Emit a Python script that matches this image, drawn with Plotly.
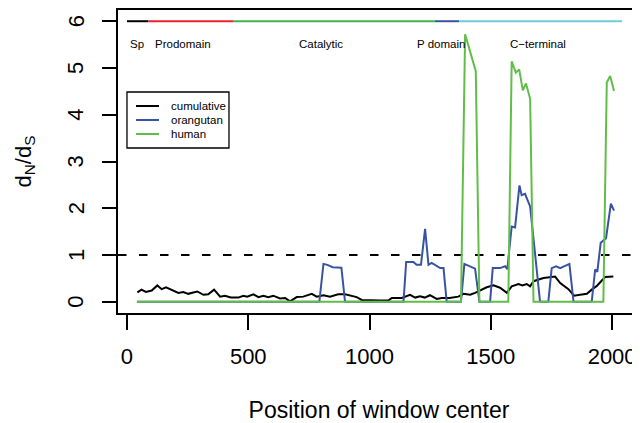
import plotly.graph_objects as go

# ---------------- data ----------------
# cumulative dN/dS (black)
cum_x = [43, 60, 78, 102, 125, 143, 161, 184, 212, 232, 253, 273, 290, 315, 335, 359, 384, 404,
         428, 459, 480, 496, 521, 542, 562, 583, 603, 631, 652, 672, 700, 727, 762, 782, 810, 837,
         871, 899, 927, 947, 968, 1002, 1040, 1078, 1092, 1133, 1167, 1188, 1208, 1228, 1249, 1277,
         1298, 1330, 1366, 1387, 1415, 1435, 1463, 1483, 1511, 1538, 1566, 1586, 1614, 1630, 1648,
         1662, 1676, 1717, 1765, 1786, 1820, 1843, 1868, 1896, 1916, 1937, 1971, 2005]
cum_y = [0.20, 0.26, 0.21, 0.24, 0.35, 0.27, 0.31, 0.26, 0.19, 0.21, 0.17, 0.20, 0.22, 0.15, 0.16,
         0.26, 0.11, 0.13, 0.09, 0.09, 0.13, 0.11, 0.16, 0.10, 0.13, 0.10, 0.13, 0.07, 0.08, 0.01,
         0.10, 0.11, 0.17, 0.11, 0.14, 0.11, 0.16, 0.16, 0.13, 0.10, 0.04, 0.03, 0.03, 0.03, 0.08,
         0.08, 0.15, 0.09, 0.12, 0.09, 0.14, 0.06, 0.08, 0.08, 0.11, 0.17, 0.15, 0.19, 0.26, 0.31,
         0.35, 0.30, 0.19, 0.33, 0.38, 0.35, 0.38, 0.33, 0.44, 0.51, 0.54, 0.40, 0.27, 0.13, 0.15,
         0.17, 0.26, 0.34, 0.53, 0.54]

# orangutan dN/dS (blue)
ora_x = [41, 793, 810, 826, 848, 884, 899, 1140, 1151, 1181, 1194, 1212, 1229, 1243, 1256, 1291,
         1305, 1318, 1377, 1391, 1435, 1453, 1497, 1508, 1538, 1559, 1568, 1586, 1600, 1618, 1627,
         1641, 1662, 1682, 1703, 1737, 1751, 1769, 1786, 1824, 1841, 1916, 1930, 1939, 1953, 1975,
         1995, 2008]
ora_y = [0, 0, 0.81, 0.79, 0.74, 0.73, 0, 0, 0.85, 0.85, 0.79, 0.79, 1.56, 0.79, 0.83, 0.72,
         0.72, 0, 0, 0.81, 0.71, 0, 0, 0.72, 0.72, 0.76, 0.70, 1.61, 1.59, 2.49, 2.28,
         2.31, 2.04, 1.05, 0, 0, 0.72, 0.76, 0.72, 0.81, 0, 0, 0.69, 0.64, 1.26, 1.36,
         2.10, 1.95]

# human dN/dS (green)
hum_x = [41, 1377, 1394, 1438, 1453, 1572, 1586, 1603, 1617, 1632, 1645, 1662, 1676, 1964, 1978,
         1992, 2008]
hum_y = [0, 0, 5.72, 4.93, 0, 0, 5.14, 4.90, 4.97, 4.52, 4.67, 4.34, 0, 0, 4.69, 4.83, 4.51]

# protein domains drawn at the top
dom_names = ["Sp", "Prodomain", "Catalytic", "P domain", "C\u2212terminal"]
dom_start = [0, 87, 437, 1270, 1369]
dom_end = [87, 437, 1270, 1369, 2041]
dom_label_x = [43, 229, 798, 1296, 1696]
dom_colors = ["#000000", "#E8262A", "#3DB54A", "#3953A4", "#6DCBDD"]
dom_y = 6
dom_label_y = 5.52

threshold = 1

series_names = ["cumulative", "orangutan", "human"]
series_colors = ["#000000", "#3953A4", "#62BD48"]

xticks = [0, 500, 1000, 1500, 2000]
yticks = [0, 1, 2, 3, 4, 5, 6]
ytick_labels = ["0", "1", "2", "3", "4", "5", "6"]

FONT = "Liberation Sans, Arial, Helvetica, sans-serif"

fig = go.Figure()

# domain bar
for s, e, c in zip(dom_start, dom_end, dom_colors):
    fig.add_trace(go.Scatter(x=[s, e], y=[dom_y, dom_y], mode="lines",
                             line=dict(color=c, width=2), showlegend=False, hoverinfo="skip"))

for xs, ys, col, nm in zip([cum_x, ora_x, hum_x], [cum_y, ora_y, hum_y], series_colors, series_names):
    fig.add_trace(go.Scatter(x=xs, y=ys, mode="lines", name=nm,
                             line=dict(color=col, width=2), showlegend=False))

# dashed threshold line
fig.add_shape(type="line", xref="paper", x0=0, x1=1, yref="y", y0=threshold, y1=threshold,
              line=dict(color="black", width=1.8, dash="8.5px,12.5px"), layer="below")

# domain labels
for nm, lx in zip(dom_names, dom_label_x):
    fig.add_annotation(x=lx, y=dom_label_y, text=nm, showarrow=False,
                       font=dict(family=FONT, size=11.5, color="black"),
                       xanchor="center", yanchor="middle")

# rotated y tick labels (R style, parallel to the axis)
for v, t in zip(yticks, ytick_labels):
    fig.add_annotation(xref="paper", yref="y", x=-0.0805, y=v, text=t, showarrow=False,
                       textangle=-90, xanchor="center", yanchor="middle",
                       font=dict(family=FONT, size=22, color="black"))

# y axis title
fig.add_annotation(xref="paper", yref="paper", x=-0.180, y=0.5, text="d<sub>N</sub>/d<sub>S</sub>",
                   showarrow=False, textangle=-90, xanchor="center", yanchor="middle",
                   font=dict(family=FONT, size=22, color="black"))

# custom legend (paper coords)
lg_x0, lg_x1, lg_y0, lg_y1 = 0.0172, 0.2126, 0.5446, 0.7294
fig.add_shape(type="rect", xref="paper", yref="paper", x0=lg_x0, x1=lg_x1, y0=lg_y0, y1=lg_y1,
              line=dict(color="black", width=1.3), fillcolor="white")
row_y = [0.6832, 0.6370, 0.5908]
for nm, col, ry in zip(series_names, series_colors, row_y):
    fig.add_shape(type="line", xref="paper", yref="paper", x0=0.0345, x1=0.0785, y0=ry, y1=ry,
                  line=dict(color=col, width=2))
    fig.add_annotation(xref="paper", yref="paper", x=0.0977, y=ry, text=nm, showarrow=False,
                       xanchor="left", yanchor="middle",
                       font=dict(family=FONT, size=11.5, color="black"))

# the page has an 8px body margin, so the figure is 8px smaller than the window
fig.update_layout(
    width=632, height=415,
    margin=dict(l=110, r=0, t=2, b=110, autoexpand=False),
    paper_bgcolor="white", plot_bgcolor="white",
    font=dict(family=FONT, color="black"),
    showlegend=False,
    xaxis=dict(range=[-37, 2115], tickvals=xticks, ticks="outside", ticklen=15, tickwidth=1.5,
               tickcolor="black", showline=True, linecolor="black", linewidth=1.5, mirror=True,
               showgrid=False, zeroline=False, tickfont=dict(size=22, family=FONT),
               automargin=False, ticklabelstandoff=8,
               title=dict(text="Position of window center", font=dict(size=23, family=FONT),
                          standoff=38)),
    yaxis=dict(range=[-0.24, 6.24], tickvals=yticks, ticks="outside", ticklen=14, tickwidth=1.5,
               tickcolor="black", showline=True, linecolor="black", linewidth=1.5,
               showgrid=False, zeroline=False, showticklabels=False, automargin=False),
)

fig.write_html("out.html")
